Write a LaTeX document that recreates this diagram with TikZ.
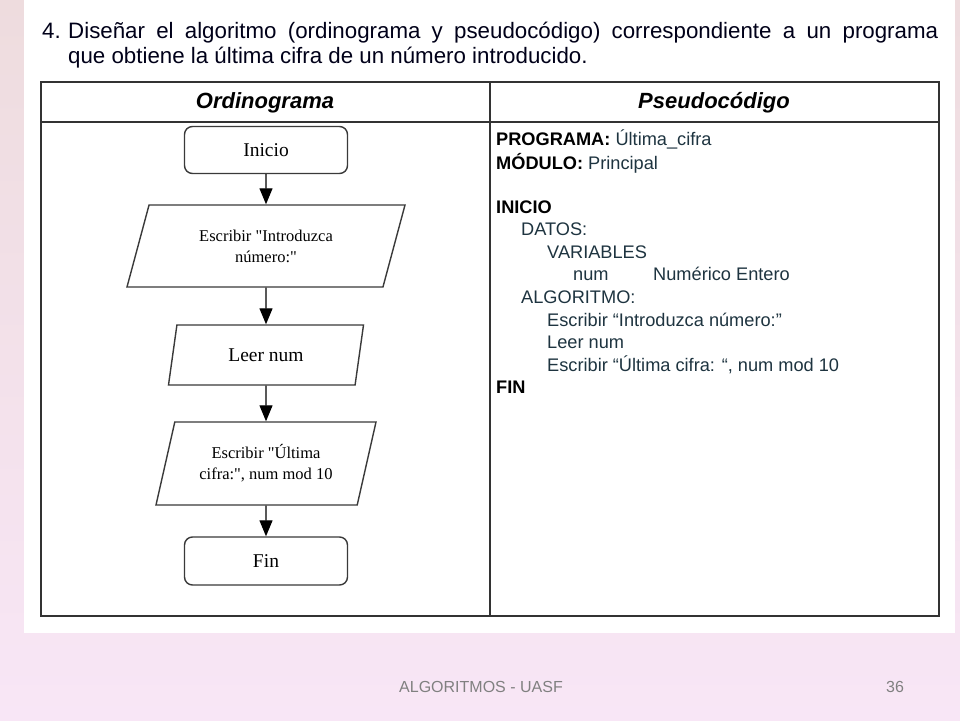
\documentclass[tikz,border=0pt]{standalone}
\usepackage{fontspec}
\setmainfont{Liberation Serif}[Ligatures=TeXOff]
\newfontfamily\arial{Liberation Sans}
\usetikzlibrary{arrows.meta,shapes.geometric}
\definecolor{bgpink}{HTML}{EEDCDE}
\definecolor{bgblue}{HTML}{80BCFC}
\definecolor{bgbottom}{HTML}{F8E6F6}
\definecolor{linec}{HTML}{333333}
\definecolor{flowc}{HTML}{3A3A3A}
\definecolor{codec}{HTML}{1E3440}
\tikzset{
  rbox/.style={draw=flowc, line width=1.4pt, rounded corners=8pt, minimum width=163pt, minimum height=47pt, inner sep=0pt, font=\fontsize{19.5}{21}\selectfont},
  para/.style={draw=flowc, line width=1.4pt, trapezium, trapezium stretches body, inner sep=0pt, align=center, font=\fontsize{16.5}{21}\selectfont},
  arr/.style={draw=black, line width=1.2pt, -{Triangle[length=16pt,width=13pt]}},
  tabline/.style={draw=linec, line width=1.8pt},
  code/.style={anchor=base west, inner sep=0pt, text=codec, font=\arial\fontsize{18.2}{20}\selectfont},
  kw/.style={code, text=black, font=\arial\bfseries\fontsize{18.2}{20}\selectfont},
  hdr/.style={inner sep=0pt, font=\arial\bfseries\itshape\fontsize{22}{24}\selectfont},
  ttl/.style={anchor=base west, inner sep=0pt, text=black!90!blue, font=\arial\fontsize{22.3}{24}\selectfont}
}
\begin{document}
\begin{tikzpicture}[x=1pt,y=-1pt]
\useasboundingbox (0,0) rectangle (960,720);
\shade[top color=bgpink, middle color=bgblue, bottom color=bgbottom] (0,0) rectangle (960,720);
\fill[white] (24,0) rectangle (955,633);
% title
\node[ttl] (num4) at (42,38) {4.};
\node[ttl] (title1) at (68,38)
  {\hbox to 870pt{Diseñar\hfill el\hfill algoritmo\hfill (ordinograma\hfill y\hfill pseudocódigo)\hfill correspondiente\hfill a\hfill un\hfill programa}};
\node[ttl] (title2) at (68,63)
  {que obtiene la última cifra de un número introducido.};
% table
\draw[tabline] (41,82) rectangle (939,616);
\draw[tabline] (41,122) -- (939,122);
\draw[tabline] (490,82) -- (490,616);
\node[hdr] (h1) at (265,103) {Ordinograma};
\node[hdr] (h2) at (714,103) {Pseudocódigo};
% flowchart
\node[rbox] (inicio) at (266,150) {Inicio};
\node[para, trapezium left angle=56, trapezium right angle=124, minimum width=278pt, minimum height=82pt] (p1) at (266,246)
  {Escribir "Introduzca\\número:"};
\node[para, trapezium left angle=57, trapezium right angle=123, minimum width=195pt, minimum height=60pt, font=\fontsize{19.5}{21}\selectfont] (p2) at (266,355)
  {Leer num};
\node[para, trapezium left angle=63.5, trapezium right angle=116.5, minimum width=220pt, minimum height=83pt] (p3) at (266,463.5)
  {Escribir "Última\\cifra:", num mod 10};
\node[rbox, minimum height=48pt] (fin) at (266,561) {Fin};
\draw[arr] (inicio.south) -- (p1.north);
\draw[arr] (p1.south) -- (p2.north);
\draw[arr] (p2.south) -- (p3.north);
\draw[arr] (p3.south) -- (fin.north);
% pseudocode
\node[kw] (l1) at (496,145) {PROGRAMA: \mdseries\color{codec}Última\_cifra};
\node[kw] (l2) at (496,169) {MÓDULO: \mdseries\color{codec}Principal};
\node[kw] (l3) at (496,213) {INICIO};
\node[code] (l4) at (521,235.6) {DATOS:};
\node[code] (l5) at (547,258.2) {VARIABLES};
\node[code] (l6a) at (573,280.8) {num};
\node[code] (l6b) at (653,280.8) {Numérico Entero};
\node[code] (l7) at (521,303.4) {ALGORITMO:};
\node[code] (l8) at (547,326) {Escribir “Introduzca número:”};
\node[code] (l9) at (547,348.6) {Leer num};
\node[code] (l10) at (547,371.2) {Escribir “Última cifra: “, num mod 10};
\node[kw] (l11) at (496,393.8) {FIN};
% footer
\node[inner sep=0pt, text=gray, font=\arial\fontsize{16}{18}\selectfont] (foot) at (481,687) {ALGORITMOS - UASF};
\node[inner sep=0pt, text=gray, font=\arial\fontsize{16}{18}\selectfont] (page) at (895,687) {36};
\end{tikzpicture}
\end{document}
